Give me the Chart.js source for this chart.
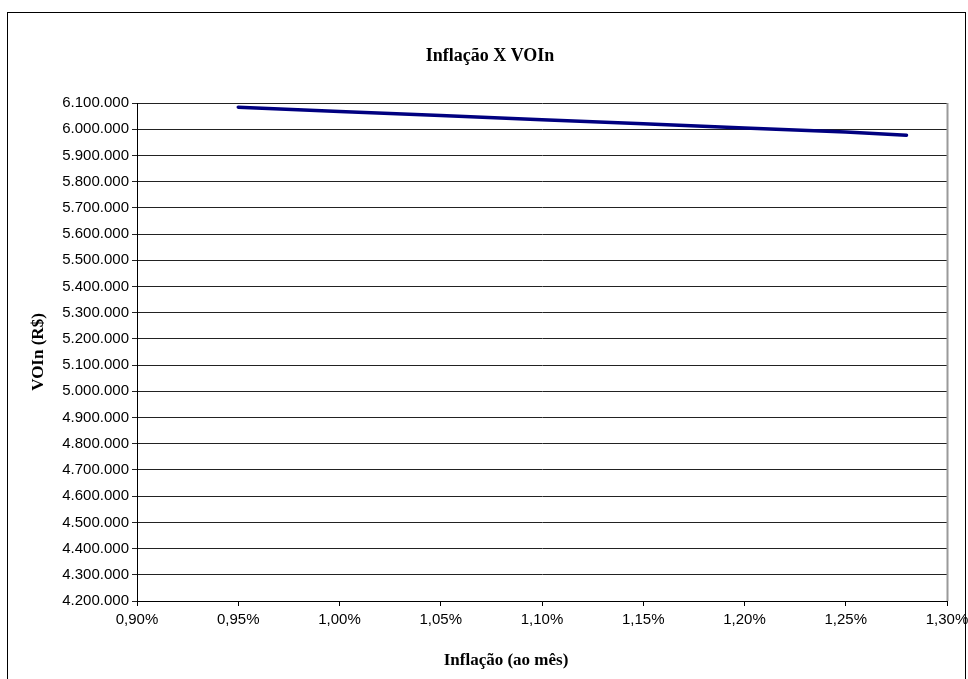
<!DOCTYPE html>
<html>
<head>
<meta charset="utf-8">
<script src="https://cdn.jsdelivr.net/npm/chart.js@4/dist/chart.umd.min.js"></script>
<style>
  html, body { margin: 0; padding: 0; background: #fff; }
  #wrap { width: 968px; height: 679px; position: relative; }
</style>
</head>
<body>
<div id="wrap"><canvas id="c" width="968" height="679"></canvas></div>
<script>
// Monthly inflation rate (%) and the resulting VOIn (R$)
const inflation = [0.95, 1.00, 1.05, 1.10, 1.15, 1.20, 1.25, 1.28];
const voin = [6084000, 6068000, 6052000, 6036000, 6021000, 6005000, 5989000, 5977000];

const chartTitle = 'Inflação X VOIn';
const xTitle = 'Inflação (ao mês)';
const yTitle = 'VOIn (R$)';

const xMin = 0.90, xMax = 1.30, xStep = 0.05;
const yMin = 4200000, yMax = 6100000, yStep = 100000;

function fmtThousands(v) {
  return Math.round(v).toString().replace(/\B(?=(\d{3})+(?!\d))/g, '.');
}
function fmtPct(v) {
  return v.toFixed(2).replace('.', ',') + '%';
}

// Frame, plot border and the three titles
const decor = {
  id: 'decor',
  beforeDraw(chart) {
    const ctx = chart.ctx;
    ctx.save();
    ctx.fillStyle = '#fff';
    ctx.fillRect(0, 0, chart.width, chart.height);
    ctx.strokeStyle = '#000';
    ctx.lineWidth = 1;
    ctx.strokeRect(7.5, 12.5, 958, 700);
    ctx.restore();
  },
  afterDatasetsDraw(chart) {
    const ctx = chart.ctx;
    const a = chart.chartArea;
    ctx.save();
    ctx.strokeStyle = '#9a9a9a';
    ctx.lineWidth = 2;
    ctx.beginPath();
    ctx.moveTo(Math.round(a.right) + 0.5, a.top);
    ctx.lineTo(Math.round(a.right) + 0.5, a.bottom);
    ctx.stroke();

    ctx.fillStyle = '#000';
    ctx.textAlign = 'center';
    ctx.textBaseline = 'middle';
    ctx.font = 'bold 18px "Liberation Serif", "Times New Roman", serif';
    ctx.fillText(chartTitle, 490, 56);
    ctx.font = 'bold 17px "Liberation Serif", "Times New Roman", serif';
    ctx.fillText(xTitle, 506, 661);
    ctx.translate(39, (a.top + a.bottom) / 2);
    ctx.rotate(-Math.PI / 2);
    ctx.fillText(yTitle, 0, 0);
    ctx.restore();
  }
};

new Chart(document.getElementById('c'), {
  type: 'line',
  data: {
    datasets: [{
      data: inflation.map((x, i) => ({ x: x, y: voin[i] })),
      borderColor: '#000080',
      borderWidth: 3.5,
      pointRadius: 0,
      tension: 0,
      fill: false,
      borderCapStyle: 'round'
    }]
  },
  options: {
    responsive: false,
    animation: false,
    layout: { padding: { left: 0, right: 21, top: 103, bottom: 0 } },
    plugins: { legend: { display: false }, tooltip: { enabled: false }, title: { display: false } },
    scales: {
      x: {
        type: 'linear',
        min: xMin, max: xMax,
        afterFit(s) { s.height = 78; s.paddingLeft = 0; s.paddingRight = 0; },
        ticks: {
          stepSize: xStep,
          color: '#000',
          font: { family: '"Liberation Sans", Arial, sans-serif', size: 15 },
          padding: 5,
          maxRotation: 0,
          callback: (v) => fmtPct(v)
        },
        grid: { display: true, drawOnChartArea: false, drawTicks: true, tickLength: 5, color: '#000' },
        border: { color: '#000', width: 1 }
      },
      y: {
        type: 'linear',
        min: yMin, max: yMax,
        afterFit(s) { s.width = 137; s.paddingTop = 0; s.paddingBottom = 0; },
        ticks: {
          stepSize: yStep,
          color: '#000',
          font: { family: '"Liberation Sans", Arial, sans-serif', size: 15 },
          padding: 3,
          callback: (v) => fmtThousands(v)
        },
        grid: { color: '#222', lineWidth: 1, tickLength: 5, drawTicks: true },
        border: { color: '#000', width: 1 }
      }
    }
  },
  plugins: [decor]
});
</script>
</body>
</html>
